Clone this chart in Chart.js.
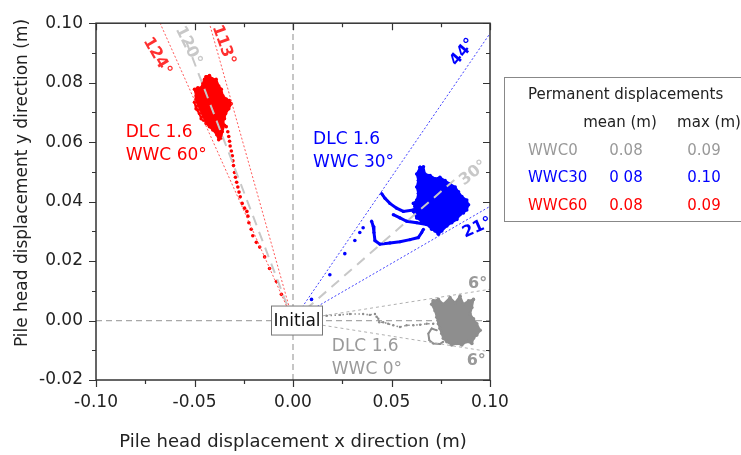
<!DOCTYPE html>
<html>
<head>
<meta charset="utf-8">
<title>Pile head displacement</title>
<script src="https://cdn.jsdelivr.net/npm/chart.js@4.4.0/dist/chart.umd.min.js"></script>
<style>
  html, body { margin: 0; padding: 0; background: #fff; overflow: hidden; }
  #wrap { width: 741px; height: 455px; }
</style>
</head>
<body>
<div id="wrap"><canvas id="deplacementChart" width="741" height="455"></canvas></div>
<script>
// Déplacements en tête de pieu - DLC 1.6, trois cas WWC (0°, 30°, 60°)

// Contour du nuage WWC 60° (x, y en m)
const nuageWWC60 = [
    [-0.0441, 0.0820], [-0.0424, 0.0824], [-0.0410, 0.0813], [-0.0390, 0.0811],
    [-0.0377, 0.0789], [-0.0364, 0.0778], [-0.0356, 0.0756], [-0.0339, 0.0745],
    [-0.0322, 0.0740], [-0.0313, 0.0729], [-0.0326, 0.0712], [-0.0342, 0.0696],
    [-0.0348, 0.0679], [-0.0356, 0.0668], [-0.0348, 0.0657], [-0.0359, 0.0635],
    [-0.0364, 0.0614], [-0.0377, 0.0608], [-0.0387, 0.0625], [-0.0407, 0.0641],
    [-0.0424, 0.0652], [-0.0441, 0.0663], [-0.0454, 0.0674], [-0.0466, 0.0679],
    [-0.0475, 0.0696], [-0.0492, 0.0712], [-0.0500, 0.0734], [-0.0492, 0.0756],
    [-0.0500, 0.0778], [-0.0483, 0.0783], [-0.0466, 0.0783], [-0.0458, 0.0800],
    [-0.0449, 0.0811]
];

// Trajectoire WWC 60° depuis la position initiale
const traceWWC60 = [
    [-0.0339, 0.0652], [-0.0331, 0.0635], [-0.0326, 0.0619], [-0.0322, 0.0603],
    [-0.0319, 0.0587], [-0.0313, 0.0570], [-0.0308, 0.0554], [-0.0305, 0.0537],
    [-0.0302, 0.0521], [-0.0297, 0.0498], [-0.0292, 0.0482], [-0.0286, 0.0465],
    [-0.0280, 0.0449], [-0.0274, 0.0432], [-0.0268, 0.0416], [-0.0258, 0.0394],
    [-0.0246, 0.0378], [-0.0234, 0.0367], [-0.0229, 0.0351], [-0.0224, 0.0329],
    [-0.0212, 0.0307], [-0.0204, 0.0285], [-0.0186, 0.0263], [-0.0169, 0.0247],
    [-0.0144, 0.0214], [-0.0119, 0.0175], [-0.0084, 0.0131], [-0.0059, 0.0088],
    [-0.0031, 0.0044]
];

// Contour du nuage WWC 30°
const nuageWWC30 = [
    [0.0645, 0.0515], [0.0662, 0.0517], [0.0670, 0.0493], [0.0696, 0.0488],
    [0.0721, 0.0477], [0.0746, 0.0482], [0.0772, 0.0471], [0.0797, 0.0460],
    [0.0823, 0.0449], [0.0840, 0.0433], [0.0857, 0.0417], [0.0882, 0.0405],
    [0.0891, 0.0389], [0.0882, 0.0372], [0.0865, 0.0362], [0.0848, 0.0356],
    [0.0832, 0.0340], [0.0806, 0.0329], [0.0781, 0.0318], [0.0755, 0.0301],
    [0.0738, 0.0290], [0.0721, 0.0301], [0.0704, 0.0307], [0.0679, 0.0323],
    [0.0653, 0.0334], [0.0628, 0.0345], [0.0611, 0.0367], [0.0619, 0.0384],
    [0.0611, 0.0394], [0.0628, 0.0405], [0.0636, 0.0427], [0.0628, 0.0449],
    [0.0636, 0.0471], [0.0628, 0.0493]
];

// Trajectoires WWC 30° (trois branches + points isolés vers l'origine)
const traceWWC30a = [
    [0.0611, 0.0372], [0.0560, 0.0367], [0.0526, 0.0378], [0.0492, 0.0394],
    [0.0467, 0.0411], [0.0450, 0.0427]
];
const traceWWC30b = [
    [0.0679, 0.0323], [0.0628, 0.0329], [0.0577, 0.0334], [0.0543, 0.0345],
    [0.0509, 0.0356]
];
const traceWWC30c = [
    [0.0399, 0.0334], [0.0407, 0.0318], [0.0411, 0.0296], [0.0416, 0.0269],
    [0.0441, 0.0257], [0.0492, 0.0261], [0.0543, 0.0265], [0.0594, 0.0272],
    [0.0636, 0.0279], [0.0653, 0.0296], [0.0662, 0.0307]
];
const pointsWWC30 = [
    [0.0356, 0.0312], [0.0339, 0.0296], [0.0314, 0.0269], [0.0263, 0.0225],
    [0.0187, 0.0154], [0.0094, 0.0071]
];

// Contour du nuage WWC 0°
const nuageWWC0 = [
    [0.0712, 0.0066], [0.0738, 0.0071], [0.0763, 0.0055], [0.0797, 0.0077],
    [0.0823, 0.0060], [0.0848, 0.0082], [0.0865, 0.0055], [0.0891, 0.0066],
    [0.0916, 0.0071], [0.0908, 0.0044], [0.0899, 0.0022], [0.0916, 0.0006],
    [0.0933, -0.0011], [0.0950, -0.0033], [0.0933, -0.0049], [0.0916, -0.0060],
    [0.0908, -0.0077], [0.0882, -0.0071], [0.0857, -0.0082], [0.0832, -0.0077],
    [0.0806, -0.0082], [0.0781, -0.0071], [0.0763, -0.0060], [0.0755, -0.0044],
    [0.0746, -0.0027], [0.0738, -0.0011], [0.0730, 0.0011], [0.0721, 0.0033],
    [0.0704, 0.0055]
];
const boucleWWC0 = [
    [0.0730, -0.0033], [0.0704, -0.0027], [0.0687, -0.0044], [0.0692, -0.0066],
    [0.0712, -0.0077], [0.0746, -0.0079], [0.0763, -0.0071]
];
const traceWWC0 = [
    [0.0170, 0.0016], [0.0238, 0.0019], [0.0289, 0.0022], [0.0356, 0.0022],
    [0.0390, 0.0019], [0.0416, 0.0022], [0.0424, 0.0013], [0.0433, 0.0006],
    [0.0438, -0.0006], [0.0458, -0.0006], [0.0483, -0.0011], [0.0509, -0.0016],
    [0.0543, -0.0022], [0.0577, -0.0016], [0.0611, -0.0016], [0.0645, -0.0014],
    [0.0679, -0.0011], [0.0712, -0.0011]
];

// Directions de chargement (degrés)
const anglesWWC60 = [124, 113];
const anglesWWC30 = [44, 21];
const anglesWWC0 = [6, -6];
const anglesNominaux = [120, 30];

// Tableau des déplacements permanents
const casWWC = ['WWC0', 'WWC30', 'WWC60'];
const moyennes = ['0.08', '0 08', '0.08'];
const maximums = ['0.09', '0.10', '0.09'];

const ROUGE = '#ff0000';
const BLEU = '#0000ff';
const GRIS = '#8e8e8e';
const GRIS_CLAIR = '#c8c8c8';
const POLICE = '"DejaVu Sans", Verdana, sans-serif';

Chart.defaults.font.family = POLICE;
Chart.defaults.color = '#222';

function versPoints(liste) {
    return liste.map(p => ({ x: p[0], y: p[1] }));
}

// Segment depuis l'origine dans la direction donnée, de longueur r
function direction(deg, r) {
    const a = deg * Math.PI / 180;
    return [{ x: 0, y: 0 }, { x: r * Math.cos(a), y: r * Math.sin(a) }];
}

// Longueur jusqu'au bord du cadre
function longueurBord(deg) {
    const a = deg * Math.PI / 180;
    const c = Math.cos(a), s = Math.sin(a);
    const lx = Math.abs(c) > 1e-9 ? 0.1 / Math.abs(c) : Infinity;
    const ly = s > 0 ? 0.1 / s : (s < 0 ? 0.02 / -s : Infinity);
    return Math.min(lx, ly);
}

function ligneDirection(deg, couleur, pointilles, epaisseur, r) {
    return {
        type: 'line',
        data: direction(deg, r || longueurBord(deg)),
        borderColor: couleur,
        borderWidth: epaisseur,
        borderDash: pointilles,
        pointRadius: 0,
        fill: false,
        order: 1
    };
}

function nuage(contour, couleur) {
    return {
        type: 'line',
        data: versPoints(contour.concat([contour[0]])),
        borderColor: couleur,
        backgroundColor: couleur,
        borderWidth: 2,
        pointRadius: 1.8,
        pointBackgroundColor: couleur,
        pointBorderWidth: 0,
        fill: 'shape',
        tension: 0,
        order: 5
    };
}

function trace(liste, couleur, options) {
    return Object.assign({
        type: 'scatter',
        data: versPoints(liste),
        borderColor: couleur,
        backgroundColor: couleur,
        pointRadius: 1.6,
        pointBorderWidth: 0,
        showLine: false,
        order: 5
    }, options || {});
}

// Étiquettes dans le graphe (coordonnées en m, rotation en degrés)
const etiquettesAngles = [
    { texte: '124°', x: -0.0689, y: 0.0888, rot: 60, couleur: '#ff3030' },
    { texte: '120°', x: -0.0531, y: 0.0924, rot: 64, couleur: GRIS_CLAIR },
    { texte: '113°', x: -0.0353, y: 0.0927, rot: 70, couleur: '#ff3030' },
    { texte: '44°', x: 0.0862, y: 0.0902, rot: -50, couleur: BLEU },
    { texte: '30°', x: 0.0915, y: 0.0496, rot: -38, couleur: GRIS_CLAIR },
    { texte: '21°', x: 0.0935, y: 0.0312, rot: -24, couleur: BLEU },
    { texte: '6°', x: 0.0937, y: 0.0125, rot: 0, couleur: '#999' },
    { texte: '6°', x: 0.0930, y: -0.0135, rot: 0, couleur: '#999' }
];
const etiquettesCas = [
    { lignes: ['DLC 1.6', 'WWC 60°'], x: -0.0849, y: 0.0631, couleur: ROUGE },
    { lignes: ['DLC 1.6', 'WWC 30°'], x: 0.0102, y: 0.0608, couleur: BLEU },
    { lignes: ['DLC 1.6', 'WWC 0°'], x: 0.0197, y: -0.0089, couleur: '#9a9a9a' }
];

// Cadre complet avec graduations majeures / mineures
const cadrePlugin = {
    id: 'cadre',
    afterDraw(chart) {
        const ctx = chart.ctx;
        const a = chart.chartArea;
        const sx = chart.scales.x;
        const sy = chart.scales.y;
        ctx.save();
        ctx.strokeStyle = '#333';
        ctx.lineWidth = 1.5;
        ctx.strokeRect(a.left, a.top, a.right - a.left, a.bottom - a.top);

        ctx.lineWidth = 1.2;
        ctx.beginPath();
        for (let i = 0; i <= 8; i++) {
            const px = Math.round(sx.getPixelForValue(-0.1 + i * 0.025)) + 0.5;
            const len = i % 2 === 0 ? 7 : 4;
            ctx.moveTo(px, a.bottom); ctx.lineTo(px, a.bottom + len);
            ctx.moveTo(px, a.top); ctx.lineTo(px, a.top + len);
        }
        for (let i = 0; i <= 12; i++) {
            const py = Math.round(sy.getPixelForValue(-0.02 + i * 0.01)) + 0.5;
            const len = i % 2 === 0 ? 7 : 4;
            ctx.moveTo(a.left, py); ctx.lineTo(a.left - len, py);
            ctx.moveTo(a.right, py); ctx.lineTo(a.right - len, py);
        }
        ctx.stroke();

        // Boîte "Initial" sur l'origine
        const ox = sx.getPixelForValue(0) + 4;
        const oy = sy.getPixelForValue(0);
        ctx.fillStyle = '#fff';
        ctx.fillRect(ox - 25.5, oy - 14.5, 51, 29);
        ctx.strokeStyle = '#777';
        ctx.lineWidth = 1;
        ctx.strokeRect(ox - 25.5, oy - 14.5, 51, 29);
        ctx.fillStyle = '#111';
        ctx.font = '17px ' + POLICE;
        ctx.textAlign = 'center';
        ctx.textBaseline = 'middle';
        ctx.fillText('Initial', ox, oy + 1);

        // Titres des axes
        ctx.fillStyle = '#222';
        ctx.save();
        ctx.translate(23, 183);
        ctx.rotate(-Math.PI / 2);
        ctx.fillText('Pile head displacement y direction (m)', 0, 0);
        ctx.restore();
        ctx.font = '18px ' + POLICE;
        ctx.fillText('Pile head displacement x direction (m)', (a.left + a.right) / 2, 442);

        // Tableau des déplacements permanents
        ctx.strokeStyle = '#888';
        ctx.strokeRect(504.5, 77.5, 260, 144);
        ctx.font = '15px ' + POLICE;
        ctx.fillStyle = '#222';
        ctx.textAlign = 'left';
        ctx.fillText('Permanent displacements', 528, 95);
        ctx.textAlign = 'center';
        ctx.fillText('mean (m)', 620, 123);
        ctx.fillText('max (m)', 709, 123);
        const couleurs = ['#999', BLEU, ROUGE];
        const lignesY = [151, 178, 206];
        casWWC.forEach((nom, i) => {
            ctx.fillStyle = couleurs[i];
            ctx.textAlign = 'left';
            ctx.fillText(nom, 528, lignesY[i]);
            ctx.textAlign = 'center';
            ctx.fillText(moyennes[i], 626, lignesY[i]);
            ctx.fillText(maximums[i], 704, lignesY[i]);
        });
        ctx.restore();
    }
};

// Textes dans la zone de tracé
const annotationsPlugin = {
    id: 'annotations',
    afterDatasetsDraw(chart) {
        const ctx = chart.ctx;
        const sx = chart.scales.x;
        const sy = chart.scales.y;
        ctx.save();
        ctx.textAlign = 'center';
        ctx.textBaseline = 'middle';
        ctx.font = 'bold 16px ' + POLICE;
        etiquettesAngles.forEach(e => {
            ctx.save();
            ctx.translate(sx.getPixelForValue(e.x), sy.getPixelForValue(e.y));
            ctx.rotate(e.rot * Math.PI / 180);
            ctx.fillStyle = e.couleur;
            ctx.fillText(e.texte, 0, 0);
            ctx.restore();
        });
        ctx.font = '17px ' + POLICE;
        ctx.textAlign = 'left';
        etiquettesCas.forEach(e => {
            ctx.fillStyle = e.couleur;
            const px = sx.getPixelForValue(e.x);
            const py = sy.getPixelForValue(e.y);
            e.lignes.forEach((t, k) => ctx.fillText(t, px, py + k * 23));
        });
        ctx.restore();
    }
};

function formatGraduation(v) {
    if (Math.abs(v) < 1e-9) return '0.00';
    return v.toFixed(2);
}

function createDeplacementChart() {
    const canvas = document.getElementById('deplacementChart');
    const ctx = canvas.getContext('2d');

    const traitBleu = { showLine: true, borderWidth: 3, pointRadius: 1.6 };

    const datasets = [
        // Directions mesurées et nominales
        ligneDirection(anglesWWC60[0], '#ff5a5a', [2, 2], 1),
        ligneDirection(anglesWWC60[1], '#ff5a5a', [2, 2], 1),
        ligneDirection(anglesNominaux[0], GRIS_CLAIR, [10, 7], 2, 0.096 / Math.sin(anglesNominaux[0] * Math.PI / 180)),
        ligneDirection(anglesWWC30[0], '#4040ff', [2, 2], 1),
        ligneDirection(anglesWWC30[1], '#4040ff', [2, 2], 1),
        ligneDirection(anglesNominaux[1], GRIS_CLAIR, [10, 7], 2, 0.082 / Math.cos(anglesNominaux[1] * Math.PI / 180)),
        ligneDirection(anglesWWC0[0], '#b0b0b0', [3, 3], 1),
        ligneDirection(anglesWWC0[1], '#b0b0b0', [3, 3], 1),

        // Nuages et trajectoires
        nuage(nuageWWC60, ROUGE),
        trace(traceWWC60, ROUGE, { pointRadius: 1.8 }),
        nuage(nuageWWC30, BLEU),
        trace(traceWWC30a, BLEU, traitBleu),
        trace(traceWWC30b, BLEU, traitBleu),
        trace(traceWWC30c, BLEU, traitBleu),
        trace(pointsWWC30, BLEU, { pointRadius: 1.8 }),
        nuage(nuageWWC0, GRIS),
        trace(boucleWWC0, GRIS, { showLine: true, borderWidth: 2, pointRadius: 1 }),
        trace(traceWWC0, GRIS, { showLine: true, borderWidth: 1.6, borderDash: [1.5, 2.5], pointRadius: 1.2 }),

        // Axes passant par l'origine
        {
            type: 'line',
            data: [{ x: 0, y: -0.02 }, { x: 0, y: 0.1 }],
            borderColor: '#a8a8a8', borderWidth: 1.3, borderDash: [6, 4],
            pointRadius: 0, fill: false, order: 10
        },
        {
            type: 'line',
            data: [{ x: -0.1, y: 0 }, { x: 0.1, y: 0 }],
            borderColor: '#a8a8a8', borderWidth: 1.3, borderDash: [6, 4],
            pointRadius: 0, fill: false, order: 10
        }
    ];

    return new Chart(ctx, {
        type: 'scatter',
        data: { datasets: datasets },
        options: {
            responsive: false,
            devicePixelRatio: 1,
            animation: false,
            layout: { padding: { left: 0, top: 15, right: 251, bottom: 0 } },
            plugins: {
                legend: { display: false },
                tooltip: { enabled: false }
            },
            scales: {
                x: {
                    type: 'linear',
                    min: -0.1,
                    max: 0.1,
                    grid: { display: false, drawTicks: false },
                    border: { display: false },
                    ticks: {
                        stepSize: 0.05,
                        padding: 12,
                        maxRotation: 0,
                        autoSkip: false,
                        color: '#222',
                        font: { size: 17 },
                        callback: formatGraduation
                    },
                    afterFit(scale) { scale.height = 75; }
                },
                y: {
                    type: 'linear',
                    min: -0.02,
                    max: 0.1,
                    grid: { display: false, drawTicks: false },
                    border: { display: false },
                    ticks: {
                        stepSize: 0.02,
                        padding: 13,
                        autoSkip: false,
                        color: '#222',
                        font: { size: 17 },
                        callback: formatGraduation
                    },
                    afterFit(scale) { scale.width = 96; }
                }
            }
        },
        plugins: [annotationsPlugin, cadrePlugin]
    });
}

window.deplacementChart = createDeplacementChart();
</script>
</body>
</html>
